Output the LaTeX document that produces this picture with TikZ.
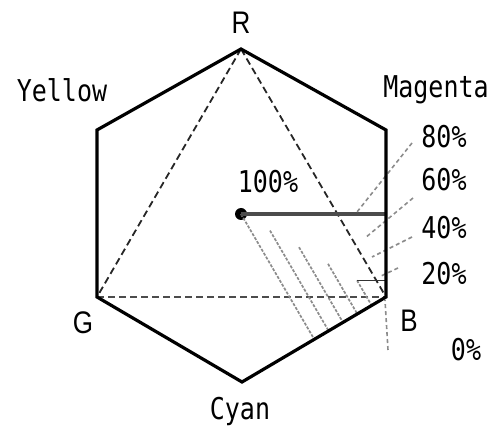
\documentclass[tikz,border=0pt]{standalone}
\usepackage{fontspec}
\usetikzlibrary{calc,intersections}
\newfontfamily\gothic{DejaVu Sans Mono}
\newfontfamily\arialish{Liberation Sans}
\newcommand{\tallt}[1]{\scalebox{1}[1.2]{#1}}
\begin{document}
\begin{tikzpicture}[x=1pt,y=-1pt,
  hexline/.style={line width=3.2pt,line join=miter,black},
  dashline/.style={line width=1.8pt,dash pattern=on 7pt off 4pt,black!85},
  grayline/.style={line width=1.7pt,dash pattern=on 3pt off 1.5pt,black!45},
  leader/.style={line width=1.6pt,dash pattern=on 4pt off 3pt,black!45},
  lab/.style={font=\gothic\fontsize{25}{25}\selectfont,inner sep=0pt},
  vlab/.style={font=\arialish\fontsize{26}{26}\selectfont,inner sep=0pt}]
\useasboundingbox (0,0) rectangle (493,430);
% hexagon vertices
\coordinate (vR) at (241,49);
\coordinate (vY) at (97,130);
\coordinate (vM) at (386,130);
\coordinate (vB) at (386,297);
\coordinate (vC) at (242,382);
\coordinate (vG) at (97,297);
% inner dashed triangle
\draw[dashline] (vR) -- (vG);
\draw[dashline] (vR) -- (vB);
\draw[dashline,black!70] (vG) -- (vB);
% parallel gray lines
\node[circle,fill=black,inner sep=0pt,minimum size=12pt] (dot) at (241,214) {};
\path[name path=edge] (vC) -- (vB);
\foreach \k in {0,1,2,3,4}{
  \coordinate (P) at ($(dot)!\k*0.2!(vB)$);
  \path[name path=ray] (P) -- ($(P)+(vB)-(vR)$);
  \draw[grayline,name intersections={of=ray and edge}] (P) -- (intersection-1);
}
\coordinate (P4) at ($(dot)!0.8!(vB)$);
\draw[line width=1.5pt,black!80] (P4) -- (P4 -| vB);
% horizontal solid line from dot
\coordinate (hE) at (386,214);
\draw[line width=3.2pt,black!70] (dot.center) -- (hE);
% leaders
\coordinate (a80) at (412,143); \coordinate (b80) at (357,212);
\coordinate (a60) at (413,198); \coordinate (b60) at (365,238);
\coordinate (a40) at (412,237); \coordinate (b40) at (372,257);
\coordinate (a20) at (398,268); \coordinate (b20) at (381,276);
\coordinate (a0) at (388,350);  \coordinate (b0) at (385,300);
\draw[leader] (a80) -- (b80);
\draw[leader] (a60) -- (b60);
\draw[leader] (a40) -- (b40);
\draw[leader] (a20) -- (b20);
\draw[leader] (a0) -- (b0);
% hexagon
\draw[hexline] (vR) -- (vM) -- (vB) -- (vC) -- (vG) -- (vY) -- cycle;
% labels
\node[vlab] (lR) at (241,23) {\tallt{R}};
\node[vlab] (lG) at (83,323) {\tallt{G}};
\node[vlab] (lB) at (409,321) {\tallt{B}};
\node[lab] (lY) at (62,90) {\tallt{Yellow}};
\node[lab] (lM) at (436,90) {\tallt{Magenta}};
\node[lab] (lC) at (240,411) {\tallt{Cyan}};
\node[lab] (l100) at (268,182) {\tallt{100\%}};
\node[lab] (l80) at (444,137) {\tallt{80\%}};
\node[lab] (l60) at (444,180) {\tallt{60\%}};
\node[lab] (l40) at (444,228) {\tallt{40\%}};
\node[lab] (l20) at (444,274) {\tallt{20\%}};
\node[lab] (l0) at (466,350) {\tallt{0\%}};
\end{tikzpicture}
\end{document}
